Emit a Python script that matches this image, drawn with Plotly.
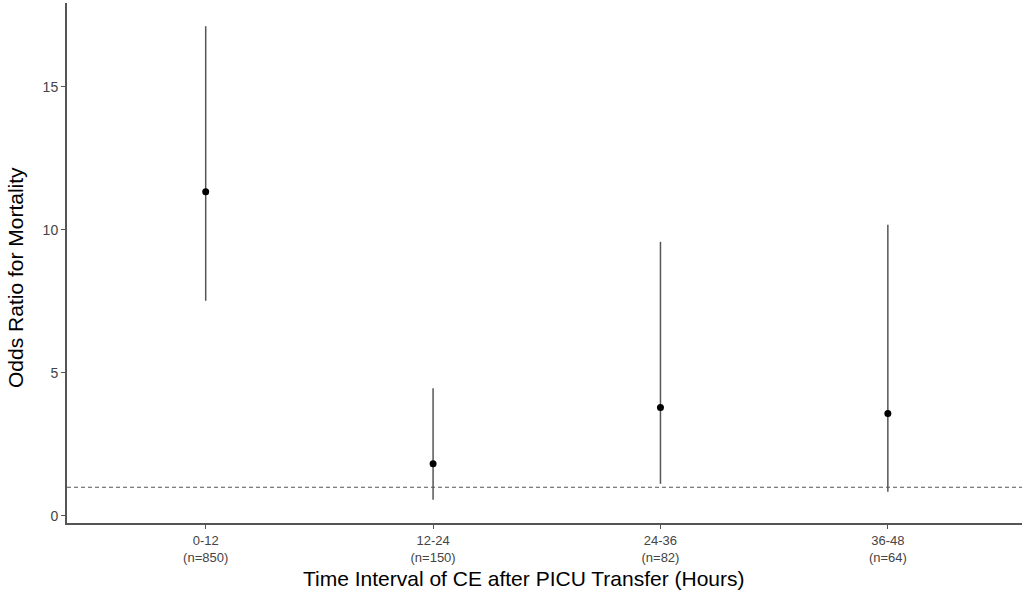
import plotly.graph_objects as go

# Data
intervals = ['0-12', '12-24', '24-36', '36-48']
n_counts = [850, 150, 82, 64]
odds_ratio = [11.33, 1.82, 3.79, 3.58]
ci_low = [7.52, 0.56, 1.12, 0.84]
ci_high = [17.12, 4.46, 9.58, 10.18]
ref_line = 1

tick_text = [f"{iv}<br>(n={n})" for iv, n in zip(intervals, n_counts)]
x_pos = list(range(len(intervals)))

fig = go.Figure()

# confidence interval lines
for x, lo, hi in zip(x_pos, ci_low, ci_high):
    fig.add_trace(go.Scatter(x=[x, x], y=[lo, hi], mode='lines',
                             line=dict(color='#555555', width=1.5),
                             showlegend=False, hoverinfo='skip'))

fig.add_trace(go.Scatter(x=x_pos, y=odds_ratio, mode='markers',
                         marker=dict(color='black', size=7),
                         showlegend=False))

fig.add_hline(y=ref_line, line=dict(color='#555555', width=1.2, dash='4px,3px'))

# axis titles as annotations (the original ones sit a bit off the panel centre)
title_font = dict(size=21, color='black')
fig.add_annotation(text='Time Interval of CE after PICU Transfer (Hours)',
                   xref='paper', yref='paper', x=0.4785, y=-0.106,
                   xanchor='center', yanchor='middle', showarrow=False,
                   font=title_font)
fig.add_annotation(text='Odds Ratio for Mortality', textangle=-90,
                   xref='paper', yref='paper', x=-0.0545, y=0.473,
                   xanchor='center', yanchor='middle', showarrow=False,
                   font=title_font)

fig.update_layout(
    width=1029, height=596,
    margin=dict(l=67, r=7, t=3, b=73),
    plot_bgcolor='white', paper_bgcolor='white',
    font=dict(family='Liberation Sans, Arial, sans-serif', color='#444444'),
    xaxis=dict(
        range=[-0.61, 3.59], tickvals=x_pos, ticktext=tick_text,
        showgrid=False, zeroline=False, showline=True, automargin=False,
        linecolor='#555555', linewidth=2,
        ticks='outside', ticklen=4, tickcolor='#555555', tickwidth=1,
        tickfont=dict(size=13, color='#444444'),
    ),
    yaxis=dict(
        range=[-0.25, 17.93], tickvals=[0, 5, 10, 15],
        showgrid=False, zeroline=False, showline=True, automargin=False,
        linecolor='#555555', linewidth=2,
        ticks='outside', ticklen=4, tickcolor='#555555', tickwidth=1,
        tickfont=dict(size=14, color='#444444'),
    ),
)

# drop the browser's default body margin so the figure sits at the page corner
fig.write_html("out.html", config={'displayModeBar': False},
               post_script="document.body.style.margin='0';")
